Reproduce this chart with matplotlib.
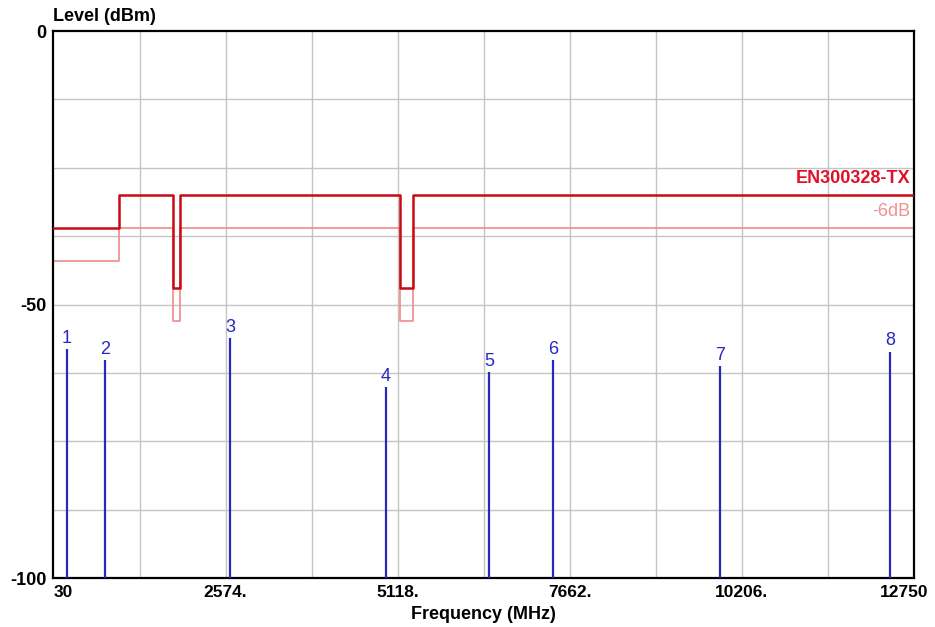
import numpy as np
import matplotlib.pyplot as plt

# limit line EN300328-TX (MHz, dBm), step shape
limit_f = [30, 1000, 1000, 1800, 1800, 1900, 1900, 5150, 5150, 5350, 5350, 12750]
limit_db = [-36, -36, -30, -30, -47, -47, -30, -30, -47, -47, -30, -30]
margin_db = -6

# measured peaks
peak_no = [1, 2, 3, 4, 5, 6, 7, 8]
peak_f = [230, 790, 2640, 4945, 6470, 7415, 9885, 12395]
peak_db = [-58.1, -60.1, -56.1, -65.1, -62.4, -60.1, -61.2, -58.6]

xticks = [30, 2574, 5118, 7662, 10206, 12750]
xticklabels = ["30", "2574.", "5118.", "7662.", "10206.", "12750"]
yticks = [0, -50, -100]

plt.rcParams['font.family'] = ['Liberation Sans', 'DejaVu Sans']

fig = plt.figure(figsize=(9.35, 6.27), dpi=100)
ax = fig.add_axes([0.0572, 0.0781, 0.9203, 0.8724])

ax.set_xlim(30, 12750)
ax.set_ylim(-100, 0)

# grid
for gx in np.arange(30, 12750, 1272)[1:]:
    ax.axvline(gx, color='#c4c4c4', lw=1, zorder=0)
for gy in np.arange(-100, 0, 12.5)[1:]:
    ax.axhline(gy, color='#c4c4c4', lw=1, zorder=0)

ax.plot(limit_f, [v + margin_db for v in limit_db], color='#f08a8a', lw=1.2, zorder=2)
ax.plot(limit_f, limit_db, color='#c80a14', lw=1.8, zorder=3)

ax.text(12690, -28.6, "EN300328-TX", color='#e0102a', fontsize=13, fontweight='bold',
        ha='right', va='bottom')
ax.text(12690, -34.6, "-6dB", color='#f09090', fontsize=13, ha='right', va='bottom')

ax.vlines(peak_f, -100, peak_db, color='#2828c0', lw=1.6, zorder=4)
for n, f, d in zip(peak_no, peak_f, peak_db):
    ax.text(f, d + 0.4, str(n), color='#2828c0', fontsize=13, ha='center', va='bottom')

for s in ax.spines.values():
    s.set_linewidth(1.6)
    s.set_color('black')

# last label sits a bit left of its tick, so draw it separately
ax.set_xticks(xticks)
ax.set_xticklabels(xticklabels[:-1] + [""], fontsize=12.5, fontweight='bold')
ax.get_xticklabels()[0].set_horizontalalignment('left')
ax.annotate(xticklabels[-1], xy=(xticks[-1], 0), xycoords=ax.get_xaxis_transform(),
            xytext=(-7, -5), textcoords='offset points', ha='center', va='top',
            fontsize=12.5, fontweight='bold')
ax.set_yticks(yticks)
ax.set_yticklabels([str(v) for v in yticks], fontsize=13, fontweight='bold')
ax.tick_params(axis='y', length=0, pad=5)
ax.tick_params(axis='x', length=0, pad=5)

ax.set_xlabel("Frequency (MHz)", fontsize=13, fontweight='bold', labelpad=4)
fig.text(0.057, 0.973, "Level (dBm)", fontsize=13, fontweight='bold', ha='left', va='center')

fig.savefig("out.png", dpi=100)
